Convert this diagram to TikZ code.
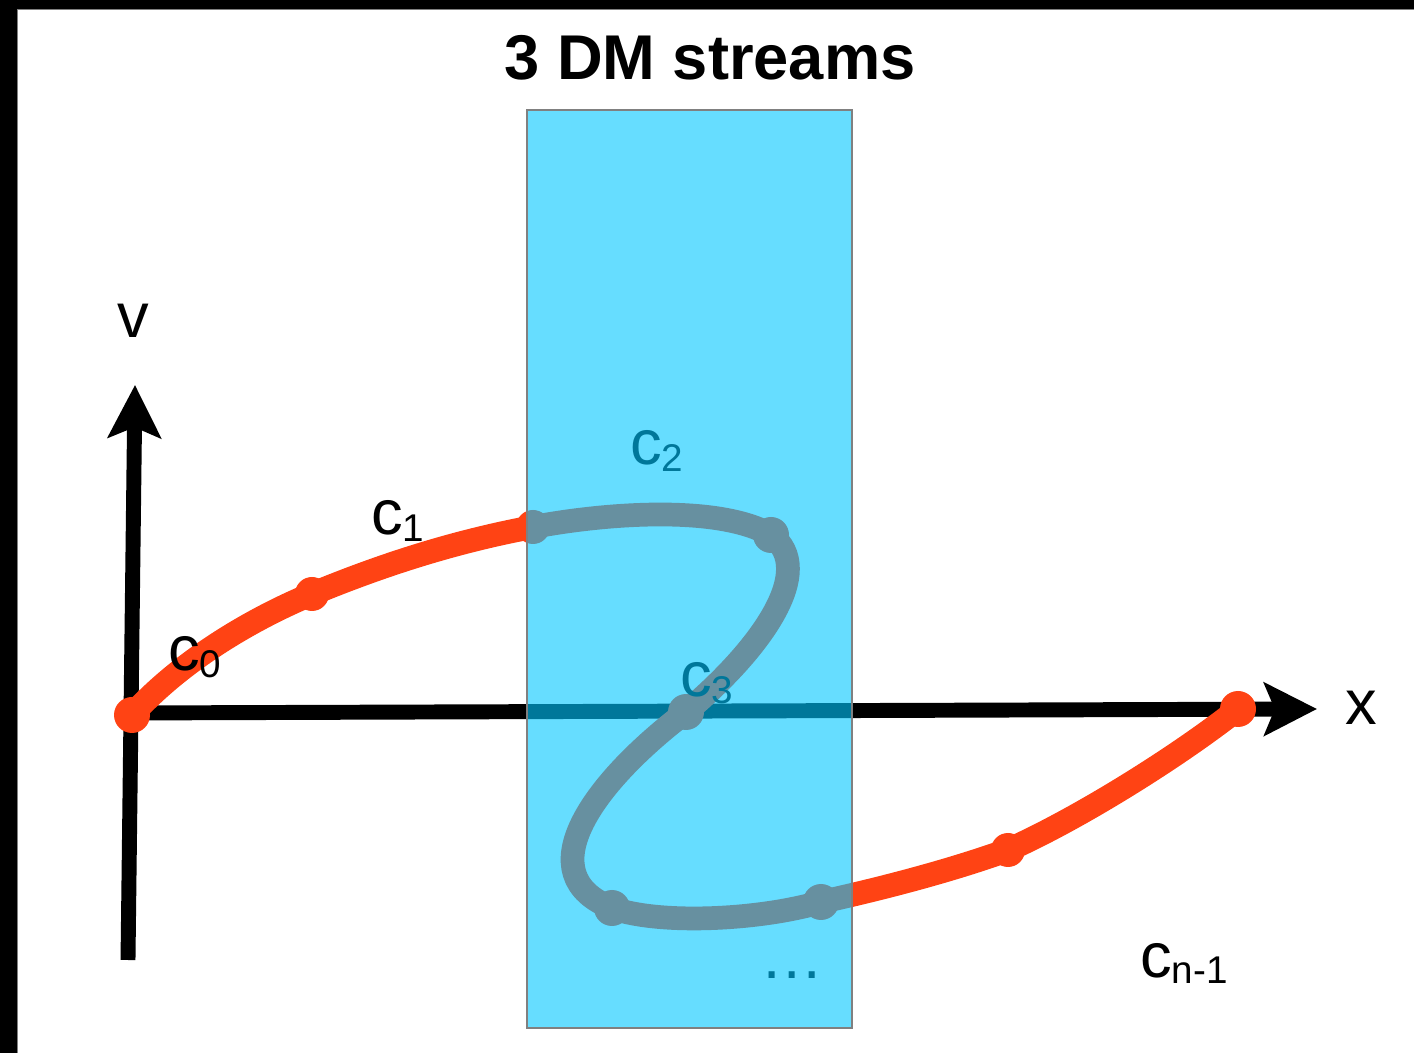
\documentclass[tikz,border=0pt]{standalone}
\usepackage{fontspec}
\setmainfont{Liberation Sans}
\usetikzlibrary{arrows.meta}
\definecolor{streamred}{HTML}{FF4314}
\definecolor{boxcyan}{HTML}{66DDFF}
\definecolor{streamgrey}{HTML}{6790A0}
\definecolor{deepteal}{HTML}{00779A}
\newcommand{\streamlab}[2]{#1\raisebox{-3.5pt}{\fontsize{22}{24}\selectfont #2}}
\newcommand{\streamcurve}{(s0) .. controls (182,660) and (252,619) .. (s1)
  .. controls (387,563) and (458,541) .. (s2)
  .. controls (613,512) and (721,506) .. (s3)
  .. controls (818,570) and (760,650) .. (s4)
  .. controls (590,785) and (528,875) .. (s5)
  .. controls (660,925) and (760,920) .. (s6)
  .. controls (880,889) and (950,871) .. (s7)
  .. controls (1080,818) and (1180,755) .. (s8)}

\begin{document}
\begin{tikzpicture}[x=0.02cm,y=-0.02cm,
    axis/.style={line width=8.5pt,-{Stealth[length=30pt,width=30pt,inset=6pt]}},
    stream/.style={line width=13.5pt,line cap=round,line join=round},
    lab/.style={inner sep=0pt,anchor=base west,font=\fontsize{36}{40}\selectfont},
    axlab/.style={inner sep=0pt,anchor=base,font=\fontsize{36}{43}\selectfont}]
  \useasboundingbox (0,0) rectangle (1414,1053);
  \fill (0,0) rectangle (17,1053);
  \fill (0,0) rectangle (1414,9);
  \draw[gray,line width=0.6pt] (17.5,1053) -- (17.5,9.5) -- (1414,9.5);

  \node[font=\fontsize{36}{43}\selectfont\bfseries,anchor=base] (title) at (710,80) {3 DM streams};

  \coordinate (vbot) at (128,960);
  \coordinate (vtip) at (135,385);
  \coordinate (xorg) at (128,713);
  \coordinate (xtip) at (1317,709);
  \coordinate (s0) at (132,715);
  \coordinate (s1) at (312,594);
  \coordinate (s2) at (533,527);
  \coordinate (s3) at (771,535);
  \coordinate (s4) at (686,712);
  \coordinate (s5) at (612,908);
  \coordinate (s6) at (821,902);
  \coordinate (s7) at (1008,850);
  \coordinate (s8) at (1238,709);
  \coordinate (bandsw) at (527,1028);
  \coordinate (bandne) at (852,110);

  \draw[axis] (vbot) -- (vtip);
  \draw[axis] (xorg) -- (xtip);
  \node[axlab] (vlab) at (133,338) {v};
  \node[axlab] (xlab) at (1361,725) {x};

  \draw[stream,streamred] \streamcurve;
  \foreach \p/\r in {s0/18,s1/17,s2/17,s3/18,s4/18,s5/18,s6/18,s7/17,s8/18}
    \fill[streamred] (\p) circle (\r);

  \node[lab] (czero) at (168,671) {\streamlab{c}{0}};
  \node[lab] (cone) at (371,535) {\streamlab{c}{1}};
  \node[lab] (clast) at (1140,977) {\streamlab{c}{n-1}};

  \fill[boxcyan] (bandsw) rectangle (bandne);
  \begin{scope}
    \clip (bandsw) rectangle (bandne);
    \draw[deepteal,line width=8.5pt] (xorg) -- (xtip);
    \draw[stream,streamgrey] \streamcurve;
    \foreach \p/\r in {s2/17,s3/18,s4/18,s5/18,s6/18}
      \fill[streamgrey] (\p) circle (\r);
  \end{scope}
  \draw[gray,line width=1pt] (bandsw) rectangle (bandne);

  \node[lab,deepteal] (ctwo) at (630,465) {\streamlab{c}{2}};
  \node[lab,deepteal] (cthree) at (680,697) {\streamlab{c}{3}};
  \node[lab,deepteal] (more) at (760,978) {…};
\end{tikzpicture}
\end{document}
